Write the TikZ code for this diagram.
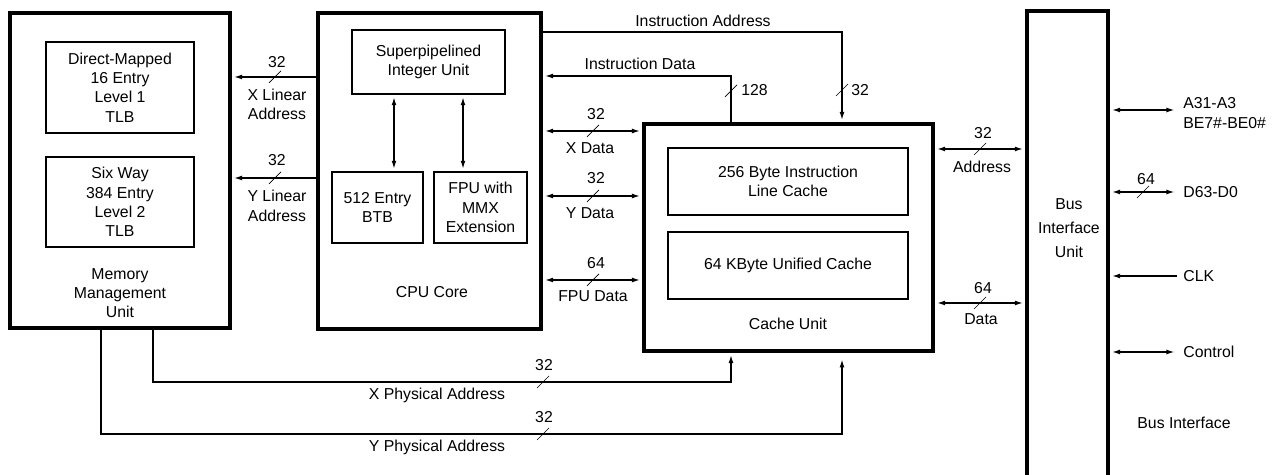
\documentclass[tikz,border=0pt]{standalone}
\usepackage{fontspec}
\setmainfont{Liberation Sans}
\usetikzlibrary{arrows.meta, calc}

\begin{document}
\begin{tikzpicture}
[x=0.02cm, y=-0.02cm,
 every node/.style={font=\fontsize{9}{11}\selectfont, align=center, inner sep=0pt},
 unit/.style={draw, line width=1.8pt},
 block/.style={draw, line width=0.8pt},
 sig/.style={line width=0.7pt},
 oneway/.style={sig, ->, shorten >=1.5pt},
 twoway/.style={sig, <->, shorten >=1.5pt, shorten <=1.5pt},
 slash/.style={line width=0.4pt},
 >={Latex[length=4.5pt,width=2.8pt]}]
\clip (0,0) rectangle (1276,475);

% units
\node[unit, minimum width=4.4cm, minimum height=6.3cm] (mmu) at (120,170.5) {};
\node[unit, minimum width=4.46cm, minimum height=6.32cm] (cpu) at (429.5,171) {};
\node[unit, minimum width=5.78cm, minimum height=4.54cm] (cache) at (788.5,237.5) {};
\node[unit, minimum width=1.62cm, minimum height=9.8cm] (biu) at (1067.5,256) {};

% blocks inside the units
\node[block, minimum width=2.96cm, minimum height=1.82cm] (tlb1) at (120,87.5) {Direct-Mapped\\16 Entry\\Level 1\\TLB};
\node[block, minimum width=2.96cm, minimum height=1.8cm] (tlb2) at (120,202) {Six Way\\384 Entry\\Level 2\\TLB};
\node[block, minimum width=3.06cm, minimum height=1.28cm] (siu) at (428.5,62) {Superpipelined\\Integer Unit};
\node[block, minimum width=1.82cm, minimum height=1.42cm] (btb) at (377.5,207.5) {512 Entry\\BTB};
\node[block, minimum width=1.86cm, minimum height=1.42cm] (fpu) at (480.5,207.5) {FPU with\\MMX\\Extension};
\node[block, minimum width=4.8cm, minimum height=1.34cm] (ilc) at (788,181.5) {256 Byte Instruction\\Line Cache};
\node[block, minimum width=4.8cm, minimum height=1.34cm] (ucache) at (788,265.5) {64 KByte Unified Cache};

\node (mmutxt) at (120,293) {Memory\\Management\\Unit};
\node (cputxt) at (432,292) {CPU Core};
\node (cachetxt) at (788,324) {Cache Unit};
\node[font=\fontsize{9}{13.6}\selectfont] (biutxt) at (1069,228) {Bus\\Interface\\Unit};

% signal rows and columns
\coordinate (xlin) at (0,77);
\coordinate (ylin) at (0,178);
\coordinate (iadr) at (0,32);
\coordinate (idat) at (0,76);
\coordinate (xdat) at (0,131);
\coordinate (ydat) at (0,196);
\coordinate (fdat) at (0,280);
\coordinate (badr) at (0,149);
\coordinate (bdat) at (0,303);
\coordinate (pa) at (0,110);
\coordinate (pd) at (0,192);
\coordinate (pclk) at (0,276);
\coordinate (pctl) at (0,352);
\coordinate (xphy) at (0,382);
\coordinate (yphy) at (0,434);
\coordinate (colA) at (731,0);
\coordinate (colB) at (842,0);
\coordinate (xpsrc) at (153,0);
\coordinate (ypsrc) at (101,0);
\coordinate (pins) at (1177,0);

\draw[twoway] ([xshift=0.33cm]btb.north) -- ([xshift=0.33cm]btb.north |- siu.south);
\draw[twoway] ([xshift=-0.35cm]fpu.north) -- ([xshift=-0.35cm]fpu.north |- siu.south);

\draw[oneway] (cpu.west |- xlin) -- (mmu.east |- xlin);
\draw[oneway] (cpu.west |- ylin) -- (mmu.east |- ylin);
\draw[oneway] (cpu.east |- iadr) -| (cache.north -| colB);
\draw[oneway] (cache.north -| colA) |- (cpu.east |- idat);
\draw[twoway] (cpu.east |- xdat) -- (cache.west |- xdat);
\draw[twoway] (cpu.east |- ydat) -- (cache.west |- ydat);
\draw[twoway] (cpu.east |- fdat) -- (cache.west |- fdat);
\draw[twoway] (cache.east |- badr) -- (biu.west |- badr);
\draw[twoway] (cache.east |- bdat) -- (biu.west |- bdat);
\draw[oneway] (mmu.south -| xpsrc) -- (xpsrc |- xphy) -- (colA |- xphy) -- (cache.south -| colA);
\draw[oneway, shorten >=4pt] (mmu.south -| ypsrc) -- (ypsrc |- yphy) -- (colB |- yphy) -- (cache.south -| colB);

\draw[twoway] (biu.east |- pa) -- (pins |- pa);
\draw[twoway] (biu.east |- pd) -- (pins |- pd);
\draw[oneway] (pins |- pclk) -- (biu.east |- pclk);
\draw[twoway] (biu.east |- pctl) -- (pins |- pctl);

% bus widths
\foreach \x/\y in {275/77, 275/178, 593/131, 593/196, 593/280, 980/149, 980/303,
  1143/192, 543/382, 543/434, 731/91, 842/90}
  \draw[slash] (\x,\y) ++(-6,6) -- ++(12,-12);
\foreach \x/\y/\w [count=\i] in {277/62/32, 277/160/32, 596/114/32, 596/178/32, 596/263/64,
  983/133/32, 983/288/64, 1146/179/64, 544/365/32, 544/417/32}
  \node (width\i) at (\x,\y) {\w};
\node[anchor=west] (width128) at (741,90) {128};
\node[anchor=west] (widthia) at (851,90) {32};

% signal names
\node (lxlin) at (277,104.5) {X Linear\\Address};
\node (lylin) at (277,206) {Y Linear\\Address};
\node (liadr) at (703,21) {Instruction Address};
\node (lidat) at (640,64) {Instruction Data};
\node (lxdat) at (590,148) {X Data};
\node (lydat) at (590,213) {Y Data};
\node (lfdat) at (593,296) {FPU Data};
\node (lbadr) at (982,167) {Address};
\node (lbdat) at (981,319) {Data};
\node (lxphy) at (437,395) {X Physical Address};
\node (lyphy) at (437,447) {Y Physical Address};
\node[anchor=west, align=left] (lpa) at (1183,113) {A31-A3\\BE7\#-BE0\#};
\node[anchor=west] (lpd) at (1183,192) {D63-D0};
\node[anchor=west] (lpclk) at (1183,276) {CLK};
\node[anchor=west] (lpctl) at (1183,352) {Control};
\node (lbus) at (1184,423) {Bus Interface};
\end{tikzpicture}
\end{document}
